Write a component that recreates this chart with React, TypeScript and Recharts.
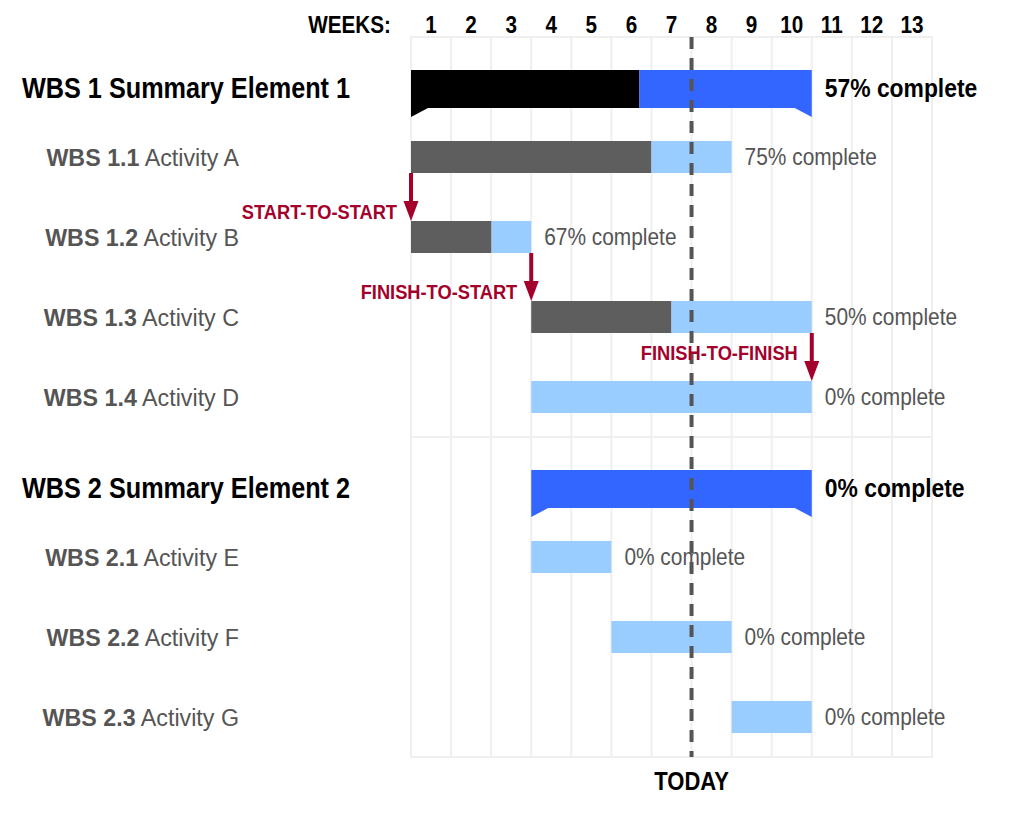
import {
  BarChart,
  Bar,
  XAxis,
  YAxis,
  CartesianGrid,
  ReferenceLine,
  ReferenceArea,
  LabelList,
} from 'recharts';

// schedule rows, top to bottom
const wbsCodes = ['WBS 1', 'WBS 1.1', 'WBS 1.2', 'WBS 1.3', 'WBS 1.4', 'WBS 2', 'WBS 2.1', 'WBS 2.2', 'WBS 2.3'];
const rowNames = [
  'Summary Element 1',
  'Activity A',
  'Activity B',
  'Activity C',
  'Activity D',
  'Summary Element 2',
  'Activity E',
  'Activity F',
  'Activity G',
];
const summaryRows = [true, false, false, false, false, true, false, false, false];
const startWeek = [0, 0, 0, 3, 3, 3, 3, 5, 8];
const durationWeeks = [10, 8, 3, 7, 7, 7, 2, 3, 2];
const percentComplete = [57, 75, 67, 50, 0, 0, 0, 0, 0];

const weekLabels = ['1', '2', '3', '4', '5', '6', '7', '8', '9', '10', '11', '12', '13'];
const todayWeek = 7;

// dependency arrows
const depFrom = ['WBS 1.1', 'WBS 1.2', 'WBS 1.3'];
const depTo = ['WBS 1.2', 'WBS 1.3', 'WBS 1.4'];
const depWeek = [0, 3, 10];
const depLabel = ['START-TO-START', 'FINISH-TO-START', 'FINISH-TO-FINISH'];

const COLORS = {
  done: '#5e5e5e',
  todo: '#99ccff',
  sumDone: '#000000',
  sumTodo: '#3366ff',
  arrow: '#a3002c',
  grid: '#efefef',
  today: '#555555',
  text: '#555555',
};

const FONT = "'Liberation Sans', Arial, sans-serif";
const BAR = 32;
const HALF_WEEK = 20;

const data = wbsCodes.map((code, i) => {
  const done = (durationWeeks[i] * percentComplete[i]) / 100;
  return {
    code,
    name: rowNames[i],
    summary: summaryRows[i],
    pct: percentComplete[i],
    offset: startWeek[i],
    done,
    left: durationWeeks[i] - done,
  };
});

const gridTicks = weekLabels.map((_, i) => i).concat(weekLabels.length);

// narrow lettering: squeeze the text horizontally around its anchor
function Narrow({ x, y, sx = 0.88, children, ...rest }: any) {
  return (
    <text transform={`translate(${x} ${y}) scale(${sx} 1)`} x={0} y={0} {...rest}>
      {children}
    </text>
  );
}

function notch(x: number, y: number, dir: 1 | -1, fill: string) {
  return <polygon points={`${x},${y + 47} ${x},${y + 56} ${x + dir * 17},${y + 47}`} fill={fill} />;
}

function DoneShape(props: any) {
  const { x, y, width, payload } = props;
  if (!width || width <= 0) return null;
  if (payload.summary) {
    return (
      <g>
        <rect x={x} y={y + 9} width={width} height={38} fill={COLORS.sumDone} />
        {notch(x, y, 1, COLORS.sumDone)}
      </g>
    );
  }
  return <rect x={x} y={y} width={width} height={BAR} fill={COLORS.done} />;
}

function LeftShape(props: any) {
  const { x, y, width, payload } = props;
  if (!width || width <= 0) return null;
  if (payload.summary) {
    return (
      <g>
        <rect x={x} y={y + 9} width={width} height={38} fill={COLORS.sumTodo} />
        {payload.done === 0 && notch(x, y, 1, COLORS.sumTodo)}
        {notch(x + width, y, -1, COLORS.sumTodo)}
      </g>
    );
  }
  return <rect x={x} y={y} width={width} height={BAR} fill={COLORS.todo} />;
}

function PctLabel(props: any) {
  const { x, y, width, height, index } = props;
  const row = data[index];
  if (row.summary) {
    return (
      <Narrow x={x + width + 13} y={y + height / 2 + 11} dominantBaseline="central" fontSize={26} fontWeight="bold" fill="#000">
        {row.pct}% complete
      </Narrow>
    );
  }
  return (
    <Narrow x={x + width + 13} y={y + height / 2} sx={0.87} dominantBaseline="central" fontSize={24} fill={COLORS.text}>
      {row.pct}% complete
    </Narrow>
  );
}

function RowTick(props: any) {
  const { x, y, payload } = props;
  const i = wbsCodes.indexOf(payload.value);
  if (summaryRows[i]) {
    return (
      <Narrow x={x - 217} y={y + 11} sx={0.87} dominantBaseline="central" fontSize={29} fontWeight="bold" fill="#000">
        {wbsCodes[i]} {rowNames[i]}
      </Narrow>
    );
  }
  return (
    <Narrow x={x} y={y} sx={0.95} textAnchor="end" dominantBaseline="central" fontSize={24.5} fill={COLORS.text}>
      <tspan fontWeight="bold">{wbsCodes[i]}</tspan> {rowNames[i]}
    </Narrow>
  );
}

function WeekTick(props: any) {
  const { x, y, payload } = props;
  const label = weekLabels[payload.value];
  if (!label) return null;
  return (
    <Narrow x={x + HALF_WEEK} y={y} sx={0.9} textAnchor="middle" fontSize={23} fontWeight="bold" fill="#000">
      {label}
    </Narrow>
  );
}

function makeArrow(k: number) {
  // raise the label into the gap when the target bar runs under it
  const targetStart = startWeek[wbsCodes.indexOf(depTo[k])];
  const labelInGap = targetStart < depWeek[k];
  return function ArrowShape(props: any) {
    const { x1, y1, y2 } = props;
    const top = y1 + BAR / 2;
    const tip = y2 - BAR / 2;
    const labelY = labelInGap ? (top + tip) / 2 - 4 : tip - 9;
    return (
      <g>
        <line x1={x1} y1={top} x2={x1} y2={tip - 16} stroke={COLORS.arrow} strokeWidth={4} />
        <polygon points={`${x1 - 7.5},${tip - 20} ${x1 + 7.5},${tip - 20} ${x1},${tip}`} fill={COLORS.arrow} />
        <Narrow x={x1 - 14} y={labelY} sx={0.87} textAnchor="end" dominantBaseline="central" fontSize={21} fontWeight="bold" fill={COLORS.arrow}>
          {depLabel[k]}
        </Narrow>
      </g>
    );
  };
}

export default function App() {
  return (
    <div style={{ position: 'absolute', left: 0, top: 0, width: 1024, height: 826, fontFamily: FONT, background: '#fff' }}>
      <BarChart
        width={1024}
        height={826}
        data={data}
        layout="vertical"
        margin={{ top: 0, right: 92, bottom: 69, left: 0 }}
        barSize={BAR}
      >
        <CartesianGrid horizontal={false} stroke={COLORS.grid} strokeWidth={2} />
        <XAxis
          type="number"
          domain={[0, weekLabels.length]}
          ticks={gridTicks}
          interval={0}
          orientation="top"
          height={37}
          axisLine={false}
          tickLine={false}
          tickSize={0}
          tickMargin={4}
          tick={<WeekTick />}
          label={{
            content: (p: any) => (
              <Narrow x={p.viewBox.x - 20} y={p.viewBox.y + 33} sx={0.9} textAnchor="end" fontSize={23} fontWeight="bold" fill="#000">
                WEEKS:
              </Narrow>
            ),
          }}
        />
        <YAxis
          type="category"
          dataKey="code"
          width={411}
          interval={0}
          axisLine={false}
          tickLine={false}
          tickSize={0}
          tickMargin={172}
          tick={<RowTick />}
        />
        <ReferenceArea x1={0} x2={weekLabels.length} y1="WBS 1" y2="WBS 1.4" fill="none" stroke={COLORS.grid} strokeWidth={2} />
        <ReferenceArea x1={0} x2={weekLabels.length} y1="WBS 2" y2="WBS 2.3" fill="none" stroke={COLORS.grid} strokeWidth={2} />
        <Bar dataKey="offset" stackId="t" fill="transparent" isAnimationActive={false} />
        <Bar dataKey="done" stackId="t" shape={<DoneShape />} isAnimationActive={false} />
        <Bar dataKey="left" stackId="t" shape={<LeftShape />} isAnimationActive={false}>
          <LabelList dataKey="pct" content={<PctLabel />} />
        </Bar>
        <ReferenceLine
          x={todayWeek}
          stroke={COLORS.today}
          strokeWidth={4}
          strokeDasharray="12 9"
          label={{
            position: 'bottom',
            content: (p: any) => (
              <Narrow
                x={p.viewBox.x}
                y={p.viewBox.y + p.viewBox.height + 25}
                textAnchor="middle"
                dominantBaseline="central"
                fontSize={25}
                fontWeight="bold"
                fill="#000"
              >
                TODAY
              </Narrow>
            ),
          }}
        />
        {depWeek.map((w, k) => (
          <ReferenceLine
            key={depLabel[k]}
            segment={[
              { x: w, y: depFrom[k] },
              { x: w, y: depTo[k] },
            ]}
            shape={makeArrow(k)}
          />
        ))}
      </BarChart>
    </div>
  );
}
